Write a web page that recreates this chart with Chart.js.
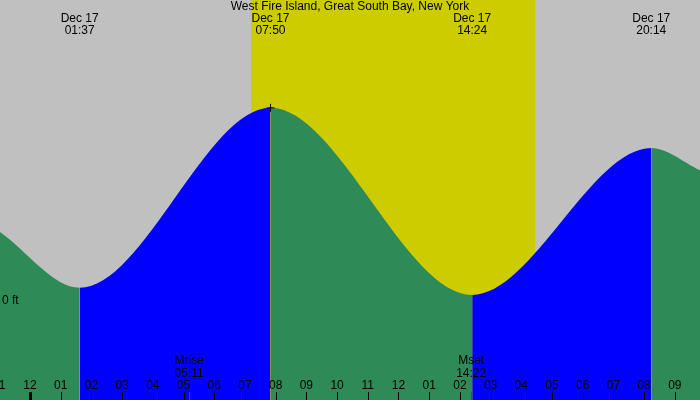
<!DOCTYPE html>
<html>
<head>
<meta charset="utf-8">
<script src="https://cdn.jsdelivr.net/npm/chart.js@4/dist/chart.umd.min.js"></script>
<style>
  body { margin: 0; background: #c0c0c0; }
  #wrap { width: 700px; height: 400px; }
</style>
</head>
<body>
<div id="wrap"><canvas id="tide"></canvas></div>
<script>
// tide extremes (hours after Dec 17 00:00, feet) plus the two window edges
var tideHours = [-0.977, 1.617, 7.833, 14.4, 20.233, 21.82];
var tideFeet = [1.15, 0.22, 3.22, 0.1, 2.55, 2.18];
var extremeLabels = ["01:37", "07:50", "14:24", "20:14"];
var extremeHours = [1.617, 7.833, 14.4, 20.233];
var sunHours = [7.2, 16.45];
var moonNames = ["Mrise", "Mset"];
var moonTimes = ["05:11", "14:22"];
var moonHours = [5.183, 14.367];
var hourTicks = [-1, 0, 1, 2, 3, 4, 5, 6, 7, 8, 9, 10, 11, 12, 13, 14, 15, 16, 17, 18, 19, 20, 21];
var hourLabels = ["11", "12", "01", "02", "03", "04", "05", "06", "07", "08", "09", "10", "11", "12", "01", "02", "03", "04", "05", "06", "07", "08", "09"];

var green = "#2e8b57";
var blue = "#0000ff";
var font = "12px 'Liberation Sans', Arial, sans-serif";

// gray sky with yellow daylight band behind the curve
var backdrop = {
  id: "backdrop",
  beforeDatasetsDraw: function (chart) {
    var c = chart.ctx, x = chart.scales.x, a = chart.chartArea;
    c.save();
    c.fillStyle = "#c0c0c0";
    c.fillRect(a.left, a.top, a.right - a.left, a.bottom - a.top);
    var x0 = x.getPixelForValue(sunHours[0]), x1 = x.getPixelForValue(sunHours[1]);
    c.fillStyle = "#cccc00";
    c.fillRect(x0, a.top, x1 - x0, a.bottom - a.top);
    c.restore();
  }
};

// text and tick marks on top of the curve
var labels = {
  id: "labels",
  afterDatasetsDraw: function (chart) {
    var c = chart.ctx, x = chart.scales.x, y = chart.scales.y, a = chart.chartArea;
    c.save();
    c.font = font;
    c.fillStyle = "#000";
    c.textAlign = "center";
    c.textBaseline = "middle";
    c.fillText("West Fire Island, Great South Bay, New York", 350, 7);
    extremeHours.forEach(function (h, i) {
      var px = x.getPixelForValue(h);
      c.fillText("Dec 17", px, 19);
      c.fillText(extremeLabels[i], px, 31);
    });
    // plus marker at the highest tide
    var hx = x.getPixelForValue(extremeHours[1]), hy = y.getPixelForValue(tideFeet[2]);
    c.strokeStyle = "#000";
    c.lineWidth = 1;
    c.beginPath();
    c.moveTo(hx - 4, hy); c.lineTo(hx + 4, hy);
    c.moveTo(hx, hy - 4); c.lineTo(hx, hy + 4);
    c.stroke();
    c.textAlign = "left";
    c.fillText("0 ft", 2, y.getPixelForValue(0));
    c.textAlign = "center";
    hourTicks.forEach(function (h, i) {
      var px = x.getPixelForValue(h);
      c.fillText(hourLabels[i], px, 386);
      c.fillStyle = "#000";
      c.fillRect(Math.round(px) - (hourLabels[i] === "12" && h === 0 ? 1 : 0), 392, h === 0 ? 3 : 1, 8);
    });
    moonHours.forEach(function (h, i) {
      var px = x.getPixelForValue(h);
      c.fillStyle = "#000";
      c.fillText(moonNames[i], px, 361);
      c.fillText(moonTimes[i], px, 374);
      c.fillStyle = "#ff0000";
      c.fillRect(Math.round(px), 392, 1, 8);
    });
    c.restore();
  }
};

new Chart(document.getElementById("tide"), {
  type: "line",
  data: {
    datasets: [{
      data: tideHours.map(function (h, i) { return { x: h, y: tideFeet[i] }; }),
      fill: "start",
      cubicInterpolationMode: "monotone",
      pointRadius: 0,
      borderWidth: 0,
      segment: {
        backgroundColor: function (ctx) { return ctx.p0.parsed.y > ctx.p1.parsed.y ? green : blue; },
        borderColor: function (ctx) { return ctx.p0.parsed.y > ctx.p1.parsed.y ? green : blue; }
      }
    }]
  },
  options: {
    responsive: true,
    maintainAspectRatio: false,
    animation: false,
    layout: { padding: 0 },
    plugins: { legend: { display: false }, tooltip: { enabled: false } },
    scales: {
      x: { type: "linear", min: -0.977, max: 21.82, display: false },
      y: { min: -1.65, max: 5.017, display: false }
    }
  },
  plugins: [backdrop, labels]
});
</script>
</body>
</html>
